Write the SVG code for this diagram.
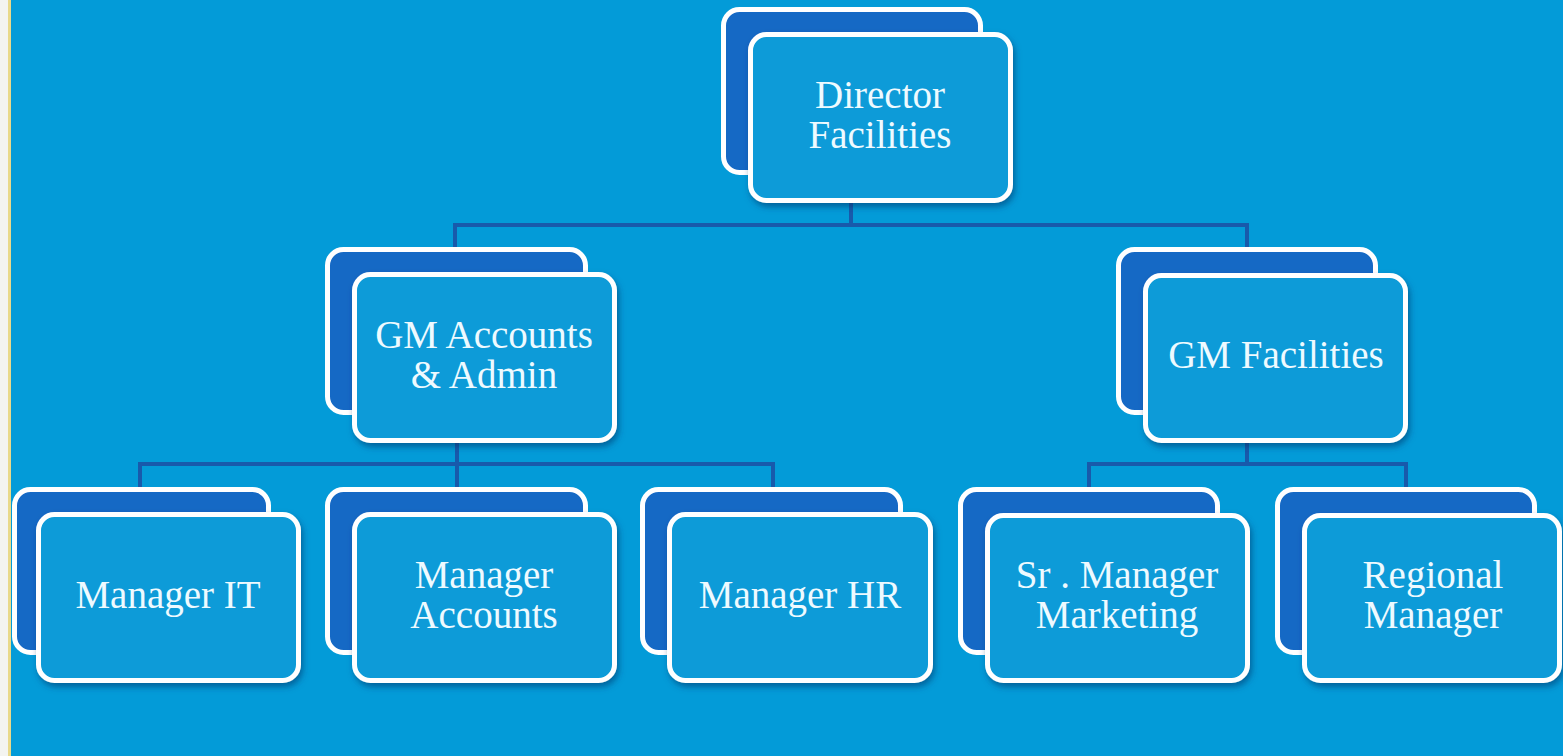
<svg xmlns="http://www.w3.org/2000/svg" width="1563" height="756" viewBox="0 0 1563 756">
<defs>
<style>
.bg{fill:#039bd8}
.back{fill:#1569c5;stroke:#ffffff;stroke-width:5}
.front{fill:#079bd8;stroke:#ffffff;stroke-width:5;filter:url(#sh)}
.lbl{font-family:"Liberation Serif","DejaVu Serif",serif;font-size:39px;fill:#eefaff;text-anchor:middle}
.conn{stroke:#185aab;stroke-width:4;fill:none}
</style>
<filter id="sh" x="-10%" y="-10%" width="125%" height="130%">
<feDropShadow dx="2" dy="4" stdDeviation="3" flood-color="#04386a" flood-opacity="0.55"/>
</filter>
</defs>
<rect x="0" y="0" width="1563" height="756" fill="#f4f4f0"/>
<rect x="8" y="0" width="3" height="756" fill="#e9d98a"/>
<rect class="bg" x="11" y="0" width="1552" height="756"/>
<g id="connectors">
<path class="conn" d="M851 200V225M455 249V225H1247V249"/>
<path class="conn" d="M457 440V489M140 489V464H773V489"/>
<path class="conn" d="M1247 440V464M1089 489V464H1406V489"/>
</g>
<g id="director">
<rect class="back" x="723.5" y="9.5" width="257" height="163" rx="16"/>
<rect class="front" x="750.5" y="34.5" width="260" height="166" rx="16"/>
<text class="lbl" x="880" y="108">Director</text>
<text class="lbl" x="880" y="148">Facilities</text>
</g>
<g id="gm-accounts">
<rect class="back" x="327.5" y="249.5" width="258" height="163" rx="16"/>
<rect class="front" x="354.5" y="274.5" width="260" height="166" rx="16"/>
<text class="lbl" x="484" y="348">GM Accounts</text>
<text class="lbl" x="484" y="388">&amp; Admin</text>
</g>
<g id="gm-facilities">
<rect class="back" x="1118.5" y="249.5" width="257" height="163" rx="16"/>
<rect class="front" x="1145.5" y="275.5" width="260" height="165" rx="16"/>
<text class="lbl" x="1276" y="368">GM Facilities</text>
</g>
<g id="manager-it">
<rect class="back" x="14.5" y="489.5" width="254" height="163" rx="16"/>
<rect class="front" x="38.5" y="514.5" width="260" height="166" rx="16"/>
<text class="lbl" x="168" y="608">Manager IT</text>
</g>
<g id="manager-accounts">
<rect class="back" x="327.5" y="489.5" width="258" height="163" rx="16"/>
<rect class="front" x="354.5" y="514.5" width="260" height="166" rx="16"/>
<text class="lbl" x="484" y="588">Manager</text>
<text class="lbl" x="484" y="628">Accounts</text>
</g>
<g id="manager-hr">
<rect class="back" x="642.5" y="489.5" width="258" height="163" rx="16"/>
<rect class="front" x="669.5" y="514.5" width="261" height="166" rx="16"/>
<text class="lbl" x="800" y="608">Manager HR</text>
</g>
<g id="sr-manager-marketing">
<rect class="back" x="960.5" y="489.5" width="257" height="163" rx="16"/>
<rect class="front" x="987.5" y="515.5" width="260" height="165" rx="16"/>
<text class="lbl" x="1117" y="588">Sr . Manager</text>
<text class="lbl" x="1117" y="628">Marketing</text>
</g>
<g id="regional-manager">
<rect class="back" x="1277.5" y="489.5" width="257" height="163" rx="16"/>
<rect class="front" x="1304.5" y="515.5" width="255" height="165" rx="16"/>
<text class="lbl" x="1433" y="588">Regional</text>
<text class="lbl" x="1433" y="628">Manager</text>
</g>
</svg>
